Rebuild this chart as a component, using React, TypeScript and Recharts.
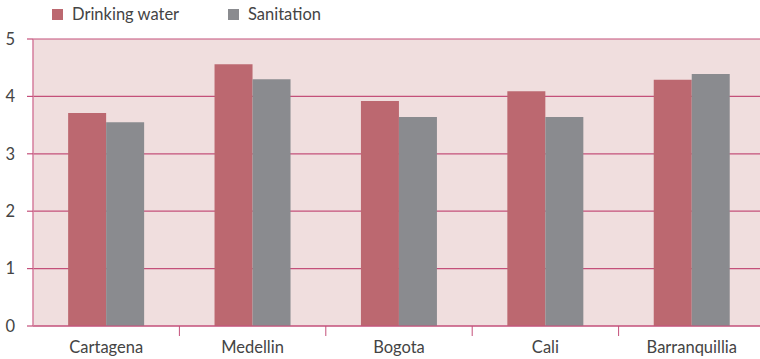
import { BarChart, Bar, XAxis, YAxis, CartesianGrid } from "recharts";

const cities = ["Cartagena", "Medellin", "Bogota", "Cali", "Barranquillia"];
const drinkingWater = [3.71, 4.56, 3.92, 4.09, 4.29];
const sanitation = [3.55, 4.3, 3.64, 3.64, 4.39];
const yTicks = [0, 1, 2, 3, 4, 5];

const data = cities.map((city, i) => ({
  city,
  drinking: drinkingWater[i],
  sanitation: sanitation[i],
}));

const FONT = "Lato, 'Open Sans', sans-serif";
const PINK = "#c4507a";
const TEXT = "#444444";

function CityTick(props: any) {
  const { x, y, payload, index } = props;
  const half = payload.offset ?? 0;
  return (
    <g>
      {index < cities.length - 1 && (
        <line x1={x + half} x2={x + half} y1={y - 8} y2={y + 2} stroke={PINK} strokeWidth={1} />
      )}
      <text x={x} y={y + 19} textAnchor="middle" fill={TEXT} fontSize={16.5} fontFamily={FONT}>
        {payload.value}
      </text>
    </g>
  );
}

function LegendBox() {
  const items = [
    { label: "Drinking water", color: "#bc6870" },
    { label: "Sanitation", color: "#8a8b8f" },
  ];
  return (
    <div style={{ display: "flex", fontFamily: FONT, fontSize: 16.5, color: TEXT }}>
      {items.map((it) => (
        <div key={it.label} style={{ display: "flex", alignItems: "center", width: 176 }}>
          <span style={{ width: 11, height: 11, background: it.color, marginRight: 9, display: "inline-block" }} />
          <span>{it.label}</span>
        </div>
      ))}
    </div>
  );
}

export default function App() {
  return (
    <div style={{ position: "fixed", left: 0, top: 0, width: 760, height: 359, overflow: "hidden", background: "#fff" }}>
      <div style={{ position: "absolute", left: 52, top: 4 }}>
        <LegendBox />
      </div>
      <BarChart
        width={770}
        height={359}
        data={data}
        margin={{ top: 39, right: 5, bottom: 0, left: 0 }}
        barCategoryGap="24%"
        barGap={0}
      >
        <CartesianGrid vertical={false} fill="#f0dede" stroke={PINK} strokeWidth={1.2} />
        <XAxis
          dataKey="city"
          height={33}
          axisLine={{ stroke: PINK, strokeWidth: 1.2 }}
          tickLine={false}
          tick={<CityTick />}
          interval={0}
        />
        <YAxis
          width={33}
          domain={[0, 5]}
          ticks={yTicks}
          axisLine={{ stroke: "#d57d9c", strokeWidth: 1.5 }}
          tickLine={{ stroke: PINK, strokeWidth: 1.2 }}
          tickSize={6}
          tick={{ fill: TEXT, fontSize: 16.5, fontFamily: FONT }}
          tickMargin={12}
        />
        <Bar dataKey="drinking" fill="#bc6870" isAnimationActive={false} />
        <Bar dataKey="sanitation" fill="#8a8b8f" isAnimationActive={false} />
      </BarChart>
    </div>
  );
}
